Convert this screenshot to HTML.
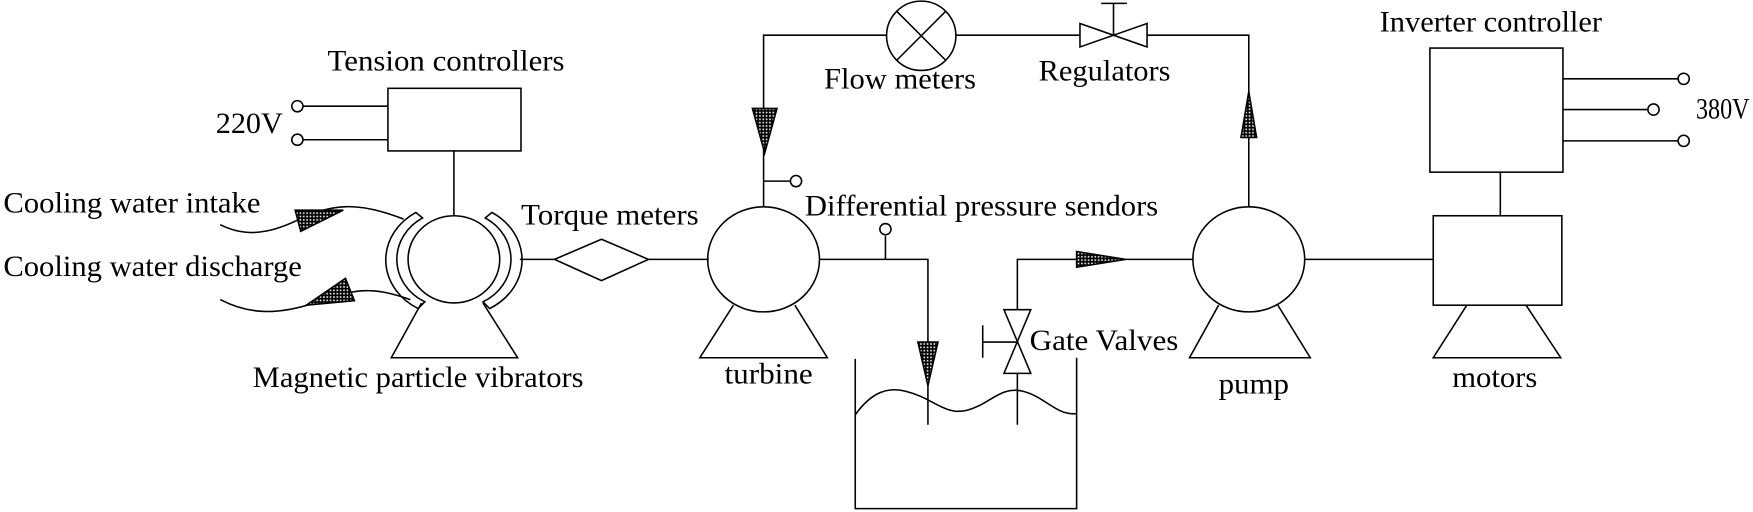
<!DOCTYPE html>
<html><head><meta charset="utf-8"><style>
html,body{margin:0;padding:0;background:#fff;}
svg{display:block;}
text{font-family:"Liberation Serif",serif;font-size:26px;fill:#000;}
</style></head><body>
<svg width="1753" height="512" viewBox="0 0 1568 458" preserveAspectRatio="none" xmlns="http://www.w3.org/2000/svg">
<defs>
<pattern id="dots" width="3" height="3" patternUnits="userSpaceOnUse">
<rect width="3" height="3" fill="#000"/><rect x="1" y="1" width="1.4" height="1.4" fill="#fff"/>
</pattern>
</defs>
<g fill="none" stroke="#000" stroke-width="1.4">
<rect x="347" y="79" width="119" height="56"/>
<line x1="271" y1="95" x2="347" y2="95"/><line x1="271" y1="125" x2="347" y2="125"/>
<circle cx="266" cy="95" r="5"/><circle cx="266" cy="125" r="5"/>
<line x1="406" y1="135" x2="406" y2="193"/>
<ellipse cx="406" cy="232" rx="41" ry="39"/>
<path d="M372,190 A57 50 0 0 0 374,276 L380,270 A47 43 0 0 1 378,195 Z" fill="#fff"/>
<path d="M440,190 A57 50 0 0 1 438,276 L432,270 A47 43 0 0 0 434,195 Z" fill="#fff"/>
<path d="M377,271 L350,320 L463,320 L432,271"/>
<path d="M197,201 C215,210 235,212 266,197 S320,180 361,196"/>
<path d="M197,268 C220,280 245,283 281,271 S330,255 367,268"/>
<polygon points="264,188 307,188 269,207" fill="url(#dots)"/>
<polygon points="274,273 309,249 317,269" fill="url(#dots)"/>
<line x1="465" y1="232" x2="496" y2="232"/>
<polygon points="496,232 538,214 580,232 538,251"/>
<line x1="580" y1="232" x2="634" y2="232"/>
<ellipse cx="683" cy="232" rx="50" ry="47"/>
<path d="M656,273 L626,320 L740,320 L711,273"/>
<polyline points="683,185 683,31.5 793,31.5"/>
<polygon points="673,97 695,97 684,137" fill="url(#dots)"/>
<line x1="683" y1="162" x2="707" y2="162"/><circle cx="712" cy="162" r="5"/>
<ellipse cx="824" cy="32" rx="31" ry="31"/>
<line x1="802" y1="10" x2="846" y2="54"/><line x1="846" y1="10" x2="802" y2="54"/>
<line x1="855" y1="31.5" x2="966" y2="31.5"/>
<polygon points="966,21 966,42 1026,21 1026,42"/>
<line x1="996" y1="31.5" x2="996" y2="3"/><line x1="985" y1="3" x2="1008" y2="3"/>
<polyline points="1026,31.5 1117,31.5 1117,185"/>
<polygon points="1110,123 1124,123 1117,82" fill="url(#dots)"/>
<polyline points="733,232 830,232 830,380"/>
<line x1="792" y1="232" x2="792" y2="211"/><circle cx="792" cy="205" r="5"/>
<polygon points="821,306 839,306 830,345" fill="url(#dots)"/>
<polyline points="765,321 765,455 963,455 963,320"/>
<path d="M765,371 C780,350 795,346 810,350 C835,356 845,372 865,367 C885,362 895,345 915,350 C935,355 945,372 963,370"/>
<polyline points="910,380 910,232 1067,232"/>
<polygon points="963,225 963,239 1007,232" fill="url(#dots)"/>
<polygon points="898,277 922,277 898,334 922,334" fill="#fff"/>
<line x1="879" y1="306" x2="910" y2="306"/><line x1="879" y1="291" x2="879" y2="320"/>
<ellipse cx="1117" cy="232" rx="50" ry="47"/>
<path d="M1090,273 L1064,320 L1172,320 L1143,273"/>
<line x1="1167" y1="232" x2="1282" y2="232"/>
<rect x="1282" y="193" width="115" height="80"/>
<path d="M1312,273 L1282,320 L1396,320 L1365,273"/>
<line x1="1342" y1="154" x2="1342" y2="193"/>
<rect x="1279" y="43" width="119" height="111"/>
<line x1="1398" y1="70.5" x2="1501" y2="70.5"/><circle cx="1506" cy="70.5" r="5"/>
<line x1="1398" y1="98" x2="1474" y2="98"/><circle cx="1479" cy="98" r="5"/>
<line x1="1398" y1="126" x2="1501" y2="126"/><circle cx="1506" cy="126" r="5"/>
</g>
<text x="293" y="63" textLength="212" lengthAdjust="spacingAndGlyphs">Tension controllers</text>
<text x="193" y="119" textLength="60" lengthAdjust="spacingAndGlyphs">220V</text>
<text x="3" y="190" textLength="230" lengthAdjust="spacingAndGlyphs">Cooling water intake</text>
<text x="3" y="247" textLength="267" lengthAdjust="spacingAndGlyphs">Cooling water discharge</text>
<text x="226" y="346" textLength="296" lengthAdjust="spacingAndGlyphs">Magnetic particle vibrators</text>
<text x="466" y="201" textLength="159" lengthAdjust="spacingAndGlyphs">Torque meters</text>
<text x="648" y="343" textLength="79" lengthAdjust="spacingAndGlyphs">turbine</text>
<text x="737" y="79" textLength="136" lengthAdjust="spacingAndGlyphs">Flow meters</text>
<text x="929" y="72" textLength="118" lengthAdjust="spacingAndGlyphs">Regulators</text>
<text x="720" y="193" textLength="316" lengthAdjust="spacingAndGlyphs">Differential pressure sendors</text>
<text x="921" y="313" textLength="133" lengthAdjust="spacingAndGlyphs">Gate Valves</text>
<text x="1090" y="352" textLength="63" lengthAdjust="spacingAndGlyphs">pump</text>
<text x="1299" y="346" textLength="76" lengthAdjust="spacingAndGlyphs">motors</text>
<text x="1234" y="28" textLength="199" lengthAdjust="spacingAndGlyphs">Inverter controller</text>
<text x="1517" y="106" textLength="48" lengthAdjust="spacingAndGlyphs">380V</text>
</svg>
</body></html>
